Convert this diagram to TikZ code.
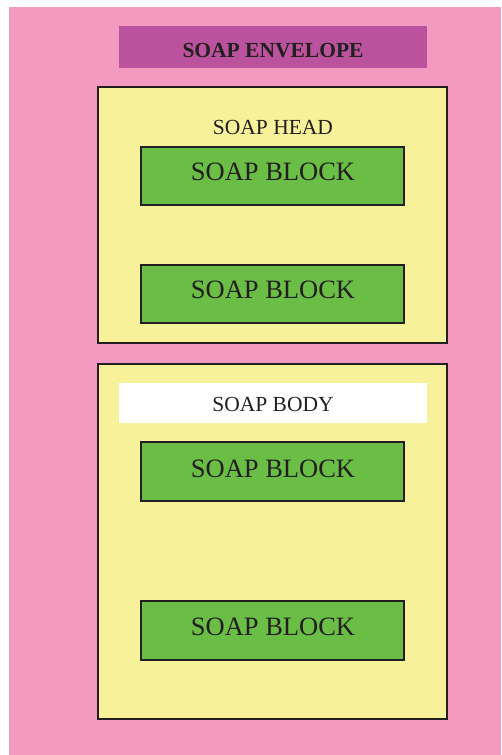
\documentclass[tikz,border=0pt]{standalone}
\usepackage{fontspec}
\setmainfont{Liberation Serif}
\definecolor{pagepink}{HTML}{F49AC1}
\definecolor{barmagenta}{HTML}{BB529D}
\definecolor{panelyellow}{HTML}{F7F199}
\definecolor{blockgreen}{HTML}{6ABD45}
\definecolor{inkdark}{HTML}{231F20}
\begin{document}
\begin{tikzpicture}[x=1pt,y=-1pt,
  panel/.style={draw=inkdark,line width=1.4pt,fill=panelyellow},
  soapblock/.style={draw=inkdark,line width=1.3pt,fill=blockgreen},
  blocklabel/.style={text=inkdark,font=\fontsize{26.5}{30}\selectfont},
  smalllabel/.style={text=inkdark,font=\fontsize{21.5}{24}\selectfont}]
  \useasboundingbox (0,0) rectangle (501,755);
  % page background
  \fill[pagepink] (9,7) rectangle (501,755);
  % title bar
  \fill[barmagenta] (119,26) rectangle (427,68);
  \node[text=inkdark,font=\bfseries\fontsize{21.5}{24}\selectfont] (env) at (273,50.3) {SOAP ENVELOPE};
  % header panel
  \draw[panel] (98,87) rectangle (447,343);
  \node[smalllabel] (head) at (273,127.5) {SOAP HEAD};
  \draw[soapblock] (141,147) rectangle (404,205);
  \node[blocklabel] (hb1) at (273,172.2) {SOAP BLOCK};
  \draw[soapblock] (141,265) rectangle (404,323);
  \node[blocklabel] (hb2) at (273,289.7) {SOAP BLOCK};
  % body panel
  \draw[panel] (98,364) rectangle (447,719);
  \fill[white] (119,383) rectangle (427,422.5);
  \node[smalllabel] (body) at (273,404.5) {SOAP BODY};
  \draw[soapblock] (141,442) rectangle (404,501);
  \node[blocklabel] (bb1) at (273,468.8) {SOAP BLOCK};
  \draw[soapblock] (141,601) rectangle (404,660);
  \node[blocklabel] (bb2) at (273,626.8) {SOAP BLOCK};
\end{tikzpicture}
\end{document}
